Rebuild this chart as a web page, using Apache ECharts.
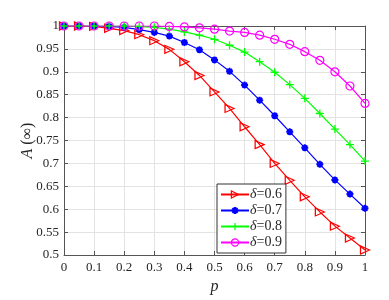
<!DOCTYPE html>
<html><head><meta charset="utf-8">
<script src="https://cdn.jsdelivr.net/npm/echarts@6/dist/echarts.min.js"></script>
<style>html,body{margin:0;padding:0;background:#fff}#c{width:389px;height:300px}</style>
</head><body><div id="c"></div>
<script>
var pValues = [0,0.05,0.1,0.15,0.2,0.25,0.3,0.35,0.4,0.45,0.5,0.55,0.6,0.65,0.7,0.75,0.8,0.85,0.9,0.95,1];
var delta06 = [1,1,0.999,0.995,0.99,0.981,0.968,0.949,0.922,0.892,0.856,0.820,0.780,0.741,0.700,0.663,0.627,0.594,0.563,0.537,0.511];
var delta07 = [1,1,1,0.999,0.997,0.992,0.986,0.978,0.964,0.948,0.926,0.901,0.871,0.838,0.804,0.769,0.734,0.698,0.664,0.633,0.602];
var delta08 = [1,1,1,1,1,0.999,0.997,0.993,0.987,0.980,0.971,0.958,0.943,0.922,0.899,0.872,0.842,0.809,0.775,0.741,0.705];
var delta09 = [1,1,1,1,1,1,1,0.999,0.998,0.996,0.993,0.989,0.986,0.980,0.971,0.960,0.944,0.925,0.900,0.869,0.831];
var seriesNames = ['δ=0.6','δ=0.7','δ=0.8','δ=0.9'];
var xTicks = [0,0.1,0.2,0.3,0.4,0.5,0.6,0.7,0.8,0.9,1];
var yTicks = [0.5,0.55,0.6,0.65,0.7,0.75,0.8,0.85,0.9,0.95,1];

var FONT = '"Liberation Serif","Times New Roman",serif';
var axisColor = '#555555';
var colors = ['#ff0000','#0000ff','#00ff00','#ff00ff'];
function pairs(arr){ return pValues.map(function(p,i){ return [p, arr[i]]; }); }

var chart = echarts.init(document.getElementById('c'), null, {renderer:'canvas'});
var baseAxis = {
  axisLine:{show:true, onZero:false, lineStyle:{color:axisColor, width:1}},
  axisTick:{show:true, inside:true, length:4, lineStyle:{color:axisColor}},
  splitLine:{show:true, lineStyle:{color:'#e3e3e3', width:1}},
  axisLabel:{color:'#262626', fontFamily:FONT, fontSize:13}
};
function mk(extra){ return Object.assign({}, JSON.parse(JSON.stringify(baseAxis)), extra); }

var symbols = ['triangle',
  'path://M0,-1L0,1M-1,0L1,0M-0.7,-0.7L0.7,0.7M-0.7,0.7L0.7,-0.7',
  'path://M0,-1L0,1M-1,0L1,0',
  'circle'];
var fills = ['rgba(0,0,0,0)', colors[1], colors[2], 'rgba(0,0,0,0)'];

var option = {
  backgroundColor:'#fff',
  animation:false,
  grid:{left:64, right:24, top:26, bottom:42, containLabel:false},
  xAxis:[
    mk({type:'value', min:0, max:1, interval:0.1, position:'bottom',
      axisLabel:{color:'#262626', fontFamily:FONT, fontSize:13, margin:6},
      name:'p', nameLocation:'middle', nameGap:24, nameMoveOverlap:false,
      nameTextStyle:{fontFamily:FONT, fontSize:16, fontStyle:'italic', color:'#262626'}}),
    mk({type:'value', min:0, max:1, interval:0.1, position:'top',
      axisLabel:{show:false}, splitLine:{show:false}})
  ],
  yAxis:[
    mk({type:'value', min:0.5, max:1, interval:0.05, position:'left',
      axisLabel:{color:'#262626', fontFamily:FONT, fontSize:13, margin:5},
      name:'{i|A} (∞)', nameLocation:'middle', nameGap:28, nameRotate:90, nameMoveOverlap:false,
      nameTextStyle:{fontFamily:FONT, fontSize:16, color:'#262626',
        rich:{i:{fontFamily:FONT, fontSize:16, fontStyle:'italic', color:'#262626'}}}}),
    mk({type:'value', min:0.5, max:1, interval:0.05, position:'right',
      axisLabel:{show:false}, splitLine:{show:false}})
  ],
  legend:{
    orient:'vertical', left:217, top:184,
    itemWidth:28, itemHeight:9, itemGap:1,
    padding:[3,4,3,3],
    backgroundColor:'#fff', borderColor:'#333', borderWidth:1,
    data:seriesNames.map(function(n,i){
      return {name:n, itemStyle:{color:fills[i], borderColor:colors[i], borderWidth:(i===1?2:1.2)}};
    }),
    formatter:function(n){ return '{i|δ}=' + n.split('=')[1]; },
    textStyle:{fontFamily:FONT, fontSize:14, lineHeight:15, color:'#262626', padding:[0,0,0,-4],
      rich:{i:{fontFamily:FONT, fontSize:14, lineHeight:15, fontStyle:'italic', color:'#262626'}}}
  },
  series:[
    {name:seriesNames[0], type:'line', data:pairs(delta06), symbol:symbols[0], symbolSize:[8,9], symbolRotate:-90,
     lineStyle:{color:colors[0], width:1.2}, itemStyle:{color:fills[0], borderColor:colors[0], borderWidth:1.2}},
    {name:seriesNames[1], type:'line', data:pairs(delta07), symbol:symbols[1], symbolSize:7,
     lineStyle:{color:colors[1], width:1.2}, itemStyle:{color:fills[1], borderColor:colors[1], borderWidth:2}},
    {name:seriesNames[2], type:'line', data:pairs(delta08), symbol:symbols[2], symbolSize:8,
     lineStyle:{color:colors[2], width:1.2}, itemStyle:{color:fills[2], borderColor:colors[2], borderWidth:1.3}},
    {name:seriesNames[3], type:'line', data:pairs(delta09), symbol:symbols[3], symbolSize:8,
     lineStyle:{color:colors[3], width:1.2}, itemStyle:{color:fills[3], borderColor:colors[3], borderWidth:1.2}}
  ]
};
chart.setOption(option);
</script></body></html>
